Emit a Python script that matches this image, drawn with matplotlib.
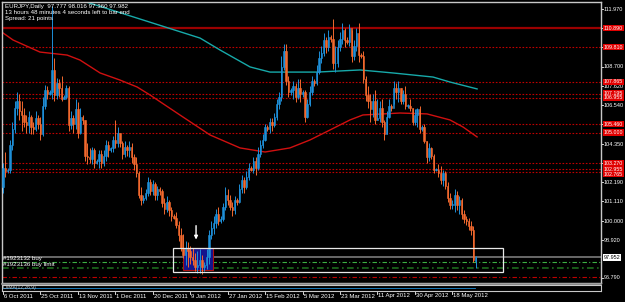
"""
EURJPY daily chart, MetaTrader style, Oct 2011 - May 2012.
"""

import numpy as np
import matplotlib
matplotlib.use('Agg')
import matplotlib.pyplot as plt
from matplotlib.patches import Rectangle
from matplotlib.transforms import blended_transform_factory

# Daily bars (high, low, close). Open of a bar is the close before it.

first_open = 101.90

highs = [103.3, 103.9, 103.0, 104.6, 105.6, 106.8, 107.3, 107.2, 106.8, 106.4,
         106.0, 106.2, 106.0, 105.6, 106.2, 106.0, 105.9, 107.0, 107.7, 107.6,
         107.4, 112.15, 109.2, 108.1, 108.0, 108.2, 107.1, 107.7, 107.6, 106.2,
         106.0, 106.9, 106.7, 106.4, 106.0, 105.7, 104.4, 104.1, 104.2, 104.1,
         103.5, 104.0, 104.0, 104.0, 104.6, 104.5, 104.2, 104.8, 105.7, 105.3,
         105.0, 104.5, 104.5, 104.3, 104.5, 104.4, 103.8, 103.6, 102.8, 101.9,
         101.5, 101.8, 102.5, 102.4, 102.3, 102.2, 102.0, 101.9, 101.8, 101.3,
         101.4, 101.2, 100.8, 100.4, 100.5, 100.0, 99.6, 99.3, 98.9, 98.8,
         98.6, 98.5, 98.2, 98.3, 98.4, 98.1, 97.7, 98.4, 99.5, 100.0,
         100.3, 100.7, 100.8, 100.3, 101.0, 101.9, 101.8, 101.5, 101.1, 101.4,
         101.3, 102.1, 102.6, 102.5, 102.8, 103.3, 103.1, 103.6, 103.6, 104.2,
         104.6, 104.9, 105.5, 105.4, 105.8, 105.8, 106.1, 106.9, 107.3, 109.3,
         110.0, 110.0, 108.2, 107.5, 107.9, 107.8, 108.0, 108.0, 107.4, 107.4,
         106.9, 107.6, 108.2, 108.0, 108.8, 109.6, 109.9, 110.6, 110.4, 110.8,
         110.5, 111.4, 109.9, 110.2, 110.7, 111.2, 110.9, 110.4, 111.1, 110.8,
         110.2, 110.9, 111.2, 109.5, 109.6, 108.2, 107.6, 107.2, 107.2, 107.4,
         106.9, 106.8, 106.9, 105.7, 106.2, 106.9, 106.6, 107.9, 107.8, 107.9,
         107.5, 107.4, 107.6, 106.6, 106.9, 106.4, 106.3, 106.4, 106.5, 105.4,
         105.5, 104.5, 104.4, 104.2, 103.8, 103.0, 103.2, 103.1, 102.9, 102.8,
         102.2, 101.6, 101.2, 101.8, 101.7, 101.4, 101.3, 100.6, 100.3, 100.2,
         100.0, 99.7, 98.016]

lows = [101.6, 102.5, 102.7, 102.7, 104.0, 105.0, 106.0, 105.7, 105.1, 105.3,
        105.0, 105.0, 104.9, 104.9, 105.1, 105.2, 104.6, 104.8, 106.3, 106.9,
        107.1, 106.9, 106.8, 106.9, 107.0, 106.8, 106.9, 106.9, 105.1, 105.2,
        105.0, 105.2, 104.7, 104.9, 105.5, 103.4, 103.2, 103.3, 103.2, 103.0,
        103.2, 103.0, 103.0, 103.1, 103.4, 103.6, 103.9, 103.9, 104.1, 104.2,
        104.2, 103.5, 103.6, 103.7, 103.6, 103.3, 102.9, 102.5, 101.3, 100.9,
        101.0, 101.2, 101.4, 101.5, 101.5, 101.2, 101.2, 101.5, 100.8, 100.4,
        100.5, 100.3, 100.0, 100.1, 99.6, 98.9, 98.3, 97.9, 97.5, 97.4,
        97.6, 97.5, 97.2, 97.05, 97.1, 97.0, 97.2, 97.3, 97.6, 99.0,
        99.3, 99.6, 99.8, 99.9, 100.0, 100.6, 100.9, 100.6, 100.3, 100.4,
        100.9, 101.0, 101.6, 101.6, 101.8, 102.3, 102.8, 102.7, 102.6, 102.9,
        103.6, 104.1, 104.5, 105.1, 105.0, 105.1, 105.3, 105.7, 106.3, 106.8,
        108.5, 107.7, 107.0, 107.1, 106.9, 106.7, 106.9, 106.7, 107.0, 105.6,
        105.8, 106.5, 107.1, 107.6, 107.7, 108.3, 108.9, 109.3, 109.5, 109.6,
        110.1, 108.6, 108.4, 108.7, 109.6, 110.0, 109.8, 110.0, 109.9, 109.0,
        109.1, 109.6, 109.0, 109.2, 107.8, 106.8, 106.4, 105.6, 105.9, 105.5,
        105.7, 105.6, 105.3, 104.6, 104.9, 105.8, 106.2, 106.6, 106.9, 106.7,
        106.6, 106.6, 106.3, 106.4, 106.2, 105.4, 105.4, 105.3, 105.0, 105.1,
        104.4, 103.3, 103.4, 103.5, 102.7, 102.8, 102.5, 102.1, 102.0, 101.8,
        101.1, 100.7, 100.7, 100.5, 100.6, 100.4, 100.1, 99.9, 99.8, 99.5,
        99.2, 97.7, 97.36]

closes = [103.0, 102.8, 102.9, 104.3, 105.2, 106.4, 106.8, 106.2, 106.0, 105.6,
          105.4, 105.9, 105.3, 105.2, 105.8, 105.5, 104.9, 106.5, 107.4, 107.2,
          107.3, 108.5, 107.1, 107.8, 107.5, 106.9, 107.0, 107.5, 105.4, 105.8,
          105.5, 106.3, 105.0, 105.9, 105.7, 103.7, 103.6, 103.5, 104.0, 103.3,
          103.4, 103.8, 103.3, 103.7, 104.3, 104.0, 104.1, 104.6, 104.4, 105.0,
          104.4, 103.8, 104.2, 104.0, 104.2, 103.6, 103.2, 102.7, 101.5, 101.2,
          101.3, 101.6, 102.2, 101.7, 102.1, 101.5, 101.8, 101.7, 101.0, 100.7,
          101.1, 100.6, 100.3, 100.2, 99.8, 99.2, 98.5, 98.1, 98.5, 98.3,
          98.0, 97.8, 97.4, 97.5, 97.8, 97.4, 97.5, 98.0, 99.2, 99.6,
          99.9, 100.4, 100.0, 100.1, 100.8, 101.5, 101.2, 100.8, 100.6, 101.2,
          101.1, 101.8, 102.3, 101.9, 102.5, 103.0, 102.9, 103.4, 103.0, 103.8,
          104.3, 104.6, 105.3, 105.2, 105.6, 105.4, 105.9, 106.6, 107.0, 108.7,
          109.6, 107.9, 107.3, 107.4, 107.6, 107.0, 107.5, 107.2, 107.3, 105.9,
          106.6, 107.3, 107.9, 107.8, 108.4, 109.2, 109.5, 110.2, 109.8, 110.4,
          110.3, 108.9, 108.9, 109.8, 110.3, 110.8, 110.2, 110.1, 110.9, 109.3,
          109.9, 110.6, 109.4, 109.3, 108.0, 107.1, 106.8, 106.3, 106.8, 105.7,
          105.8, 106.4, 105.6, 104.9, 105.9, 106.5, 106.4, 107.5, 107.3, 107.5,
          106.8, 107.2, 106.5, 106.5, 106.4, 105.6, 106.0, 106.3, 105.2, 105.3,
          104.5, 103.6, 104.1, 103.7, 102.9, 102.9, 102.7, 102.3, 102.7, 102.0,
          101.3, 100.9, 100.9, 101.5, 100.9, 101.2, 100.4, 100.1, 100.0, 99.7,
          99.5, 97.8, 97.982]

# Moving averages: (bar, price) points

ma_cyan_bars = [30, 84.2, 92.7, 105.6, 114.1, 134.2, 152.6, 166.7, 183.8, 191, 202.6]
ma_cyan_vals = [112.6, 110.33, 109.66, 108.70, 108.41, 108.41, 108.53, 108.36, 108.13, 107.85, 107.46]

ma_red_bars = [0, 4.3, 15.8, 27.4, 32.9, 41.5, 50, 57.3, 62.8, 75.6, 88.5, 101.3, 112,
               122.6, 131.2, 139.7, 148.3, 153.8, 169.7, 181.2, 191, 196.6, 202.6]
ma_red_vals = [110.62, 110.22, 109.54, 109.37, 109.09, 108.36, 107.96, 107.57, 107.12,
               105.99, 104.86, 104.13, 103.90, 104.13, 104.58, 105.14, 105.71, 105.99,
               106.10, 106.05, 105.71, 105.31, 104.75]

# Horizontal levels

level_solid = 110.890
levels_dotted = [109.810, 107.865, 107.195, 106.955, 105.460, 105.000, 103.270, 102.955, 102.765]
bid_price = 97.952
order_buy = 97.690
order_buy_limit = 97.350
order_red = 96.840

axis_prices = [111.970, 110.890, 109.810, 108.700, 107.620, 106.540, 105.460,
               104.350, 103.270, 102.190, 101.110, 100.000, 98.920, 96.790]

date_labels = ['6 Oct 2011', '25 Oct 2011', '13 Nov 2011', '1 Dec 2011',
               '20 Dec 2011', '9 Jan 2012', '27 Jan 2012', '15 Feb 2012',
               '5 Mar 2012', '23 Mar 2012', '11 Apr 2012', '30 Apr 2012',
               '18 May 2012']
date_step = 16

# zone box and the blue buy zone inside it (bars, prices)
box_bars = (72.6, 213.6)
box_prices = (97.13, 98.48)
zone_bars = (77.0, 89.7)
zone_prices = (97.24, 98.48)
arrow_bar = 82.5
arrow_prices = (99.9, 98.8)

# Colours

BG = '#000000'
BULL = '#1E8FD8'
BEAR = '#F2692E'
GRID_RED = '#C00000'
TEXT = '#FFFFFF'

W, H = 625, 302
fig = plt.figure(figsize=(W / 100, H / 100), dpi=100, facecolor=BG)

left_px, right_px, top_px, bottom_px = 2, 601, 2, 283
ax = fig.add_axes([left_px / W, 1 - bottom_px / H,
                   (right_px - left_px) / W, (bottom_px - top_px) / H])
ax.set_facecolor(BG)

px_per_unit = 17.72
bar_px = 2.34
y_top = 111.97 + (9 - top_px) / px_per_unit
y_bot = 96.79 - (bottom_px - 278) / px_per_unit
ax.set_ylim(y_bot, y_top)
x_left = -(3 - left_px) / bar_px
x_right = x_left + (right_px - left_px) / bar_px
ax.set_xlim(x_left, x_right)

for s in ax.spines.values():
    s.set_color('#C8C8C8')
    s.set_linewidth(1)
ax.set_xticks([])
ax.set_yticks([])

# Horizontal lines

ax.axhline(level_solid, color='#9A0000', lw=1.6, zorder=1)
for p in levels_dotted:
    ax.axhline(p, color=GRID_RED, lw=0.8, ls=(0, (1.5, 1.5)), zorder=1)
ax.axhline(order_buy, color='#3CB043', lw=0.8, ls=(0, (4, 2, 1, 2)), zorder=1)
ax.axhline(order_buy_limit, color='#1E6B1E', lw=1.2, ls=(0, (4, 2, 1, 2)), zorder=1)
ax.axhline(order_red, color='#C00000', lw=0.8, ls=(0, (4, 2, 1, 2)), zorder=1)
ax.axhline(bid_price, color='#707070', lw=1.3, zorder=1)

# Moving averages

ax.plot(ma_cyan_bars, ma_cyan_vals, color='#17A9A9', lw=1.0, zorder=2)
ax.plot(ma_red_bars, ma_red_vals, color='#D01010', lw=1.0, zorder=2)

# Zone rectangles

ax.add_patch(Rectangle((zone_bars[0], zone_prices[0]), zone_bars[1] - zone_bars[0],
                       zone_prices[1] - zone_prices[0], facecolor='#14148C',
                       edgecolor='#B01010', lw=0.8, zorder=2))
ax.add_patch(Rectangle((box_bars[0], box_prices[0]), box_bars[1] - box_bars[0],
                       box_prices[1] - box_prices[0], facecolor='none',
                       edgecolor='#E8E8E8', lw=0.9, zorder=4))

# Candles

opens = [first_open] + closes[:-1]
opens[-1] = 97.777
for i, (o, h, l, c) in enumerate(zip(opens, highs, lows, closes)):
    col = BULL if c >= o else BEAR
    ax.vlines(i, l, h, color=col, lw=0.7, zorder=3)
    lo, hi = min(o, c), max(o, c)
    if hi - lo < 0.05:
        hi = lo + 0.05
    ax.add_patch(Rectangle((i - 0.3, lo), 0.6, hi - lo, facecolor=col,
                           edgecolor=col, lw=0.4, zorder=3))

# Arrow

ax.annotate('', xy=(arrow_bar, arrow_prices[1]), xytext=(arrow_bar, arrow_prices[0]),
            arrowprops=dict(arrowstyle='-|>', color='white', lw=1.0,
                            mutation_scale=5), zorder=5)

# Header text

font = 'Liberation Sans'
ax.text(3 / (right_px - left_px), 1 - 2 / (bottom_px - top_px),
        'EURJPY,Daily  97.777 98.016 97.360 97.982\n'
        '13 hours 48 minutes 4 seconds left to bar end\n'
        'Spread: 21 points',
        transform=ax.transAxes, color=TEXT, fontsize=4.4, family=font,
        va='top', ha='left', linespacing=1.25, zorder=6)

ax.text(0.005, order_buy + 0.08, '#1923132 buy', color=TEXT, fontsize=4.4,
        family=font, va='bottom', ha='left', zorder=6)
ax.text(0.005, order_buy_limit + 0.05, '#1923136 buy limit', color=TEXT,
        fontsize=4.4, family=font, va='bottom', ha='left', zorder=6)

# Price axis on the right

tr = blended_transform_factory(ax.transAxes, ax.transData)
lab_x = 1.0 + 3 / (right_px - left_px)
red_levels = [level_solid] + levels_dotted
for p in axis_prices:
    ax.plot([1.0, 1.0 + 2 / (right_px - left_px)], [p, p], transform=tr,
            color=TEXT, lw=0.6, clip_on=False)
    if p in red_levels:
        continue
    ax.text(lab_x, p, '{:.3f}'.format(p), transform=tr,
            color=TEXT, fontsize=4.0, family=font, va='center', ha='left',
            clip_on=False)

# red level labels; the three close ones near 103 are spread a little
label_shift = {102.955: -0.04, 102.765: -0.12}
for p in red_levels:
    ax.text(lab_x, p + label_shift.get(p, 0.0), '{:.3f}'.format(p), transform=tr,
            color='#FFFFFF', fontsize=3.8, family=font, va='center', ha='left',
            clip_on=False, zorder=7,
            bbox=dict(boxstyle='square,pad=0.12', fc='#E00000', ec='none'))
ax.text(lab_x, bid_price, '{:.3f}'.format(bid_price),
        transform=tr, color='#000000', fontsize=4.0, family=font, va='center',
        ha='left', clip_on=False, zorder=7,
        bbox=dict(boxstyle='square,pad=0.12', fc='#FFFFFF', ec='none'))

# Indicator strip under the chart

sub = fig.add_axes([left_px / W, 1 - 291 / H, (right_px - left_px) / W, 6 / H])
sub.set_facecolor(BG)
sub.set_xlim(x_left, x_right)
sub.set_ylim(0, 1)
sub.set_xticks([])
sub.set_yticks([])
for s in sub.spines.values():
    s.set_color('#C8C8C8')
    s.set_linestyle((0, (1, 1)))
    s.set_linewidth(0.8)
sub.axhline(0.45, xmin=0.0, xmax=0.79, color='#1E8FD8', lw=0.6)
sub.text(0.002, 0.5, 'OsMA(12,26,9)', transform=sub.transAxes, color='#C8C8C8',
         fontsize=3.6, family=font, va='center', ha='left')
fig.add_artist(plt.Line2D([left_px / W, right_px / W], [1 - 284 / H, 1 - 284 / H],
                          color='#9A9A9A', lw=1.2))

# Date labels

for k, lab in enumerate(date_labels):
    xb = k * date_step
    xf = (3 + xb * bar_px) / W
    fig.text(xf + 1 / W, 1 - 296 / H, lab, color=TEXT, fontsize=4.3, family=font,
             va='center', ha='left')
    fig.add_artist(plt.Line2D([xf, xf], [1 - 292 / H, 1 - 294 / H], color=TEXT, lw=0.6))

fig.savefig('out.png', dpi=100, facecolor=BG)
